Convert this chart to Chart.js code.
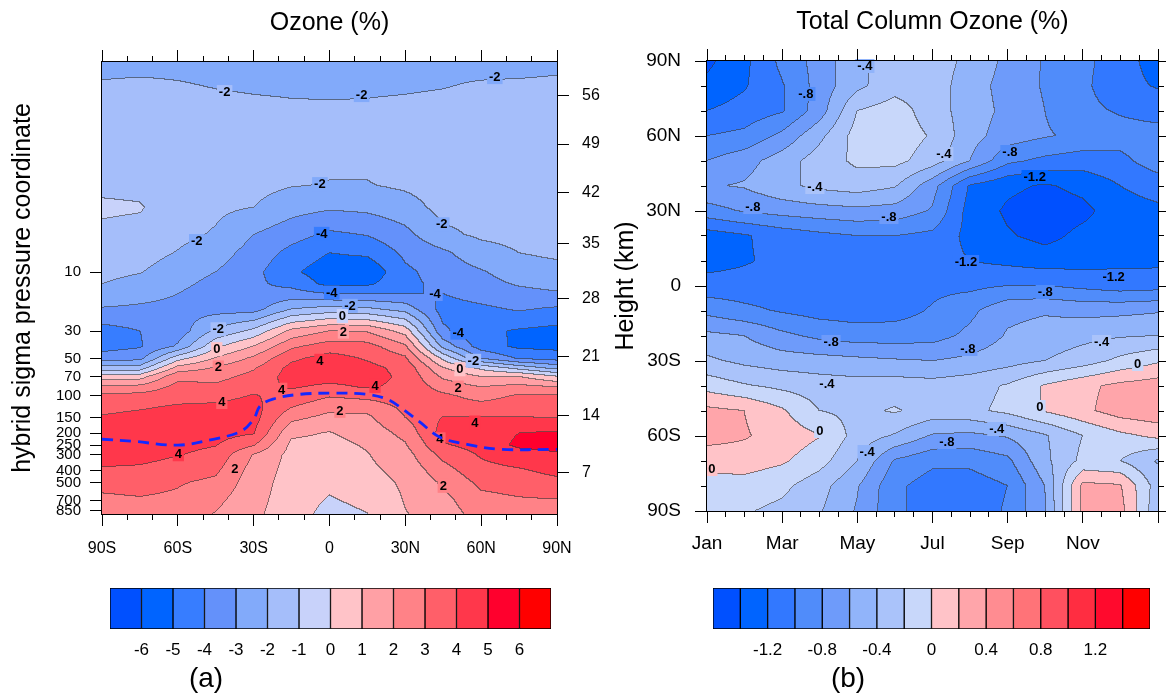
<!DOCTYPE html>
<html lang="en">
<head>
<meta charset="UTF-8">
<title>Ozone (%) and Total Column Ozone (%)</title>
<script src="https://cdn.jsdelivr.net/npm/chart.js"></script>
<style>
    body { margin: 0; background: #fff; }
    #wrap { position: relative; width: 1166px; height: 700px; overflow: hidden; background: #fff; }
    #wrap canvas { position: absolute; }
</style>
</head>
<body>
<div id="wrap">
    <canvas id="panelA" width="640" height="570" style="left:0px;top:0px"></canvas>
    <canvas id="panelB" width="566" height="570" style="left:600px;top:0px"></canvas>
    <canvas id="barA" width="640" height="140" style="left:0px;top:560px"></canvas>
    <canvas id="barB" width="566" height="140" style="left:600px;top:560px"></canvas>
</div>

<script>
    // ---------- panel (a): ozone change (%) by latitude and pressure ----------
    var ozLat = [-90, -75, -60, -45, -30, -15, 0, 15, 30, 45, 60, 75, 90];
    var ozPres = [0.2, 0.3, 0.5, 1, 2, 3, 5, 7, 10, 12.5, 15, 20, 30, 40, 50, 60, 70, 85, 100, 125, 150, 200, 250, 300, 400, 500, 700, 900];
    // one row per pressure level, columns follow ozLat
    var ozPct = [
        [-2.25, -2.25, -2.2, -2.25, -2.3, -2.3, -2.35, -2.3, -2.3, -2.25, -2.3, -2.35, -2.25],
        [-1.95, -1.9, -1.97, -2.05, -2.1, -2.12, -2.15, -2.12, -2.1, -2.05, -1.95, -1.9, -1.85],
        [-1.6, -1.6, -1.7, -1.8, -1.85, -1.9, -1.9, -1.9, -1.85, -1.8, -1.75, -1.7, -1.65],
        [-1.5, -1.5, -1.6, -1.6, -1.65, -1.7, -1.7, -1.7, -1.65, -1.6, -1.6, -1.55, -1.5],
        [-1.2, -1.25, -1.5, -1.55, -1.7, -1.95, -2.05, -2.05, -1.85, -1.6, -1.6, -1.55, -1.45],
        [-0.85, -0.92, -1.5, -1.8, -2.0, -2.6, -2.85, -2.75, -2.4, -1.7, -1.7, -1.6, -1.5],
        [-1.2, -1.3, -1.75, -2.1, -3.0, -3.6, -4.2, -3.95, -3.3, -2.2, -1.85, -1.75, -1.6],
        [-1.55, -1.6, -2.05, -2.55, -3.4, -4.3, -5.0, -4.8, -3.8, -3.2, -2.35, -2.0, -1.8],
        [-1.75, -1.95, -2.5, -3.0, -3.7, -4.8, -5.6, -5.8, -4.2, -3.6, -3.1, -2.5, -2.35],
        [-2.0, -2.3, -2.75, -3.3, -3.8, -4.3, -5.3, -5.2, -4.2, -3.8, -3.35, -2.9, -2.7],
        [-2.25, -2.6, -3.0, -3.5, -3.8, -3.6, -4.0, -4.0, -4.0, -4.0, -3.6, -3.3, -3.1],
        [-3.1, -3.2, -3.3, -3.4, -3.4, -2.0, -1.6, -1.8, -2.4, -4.4, -4.2, -3.9, -4.15],
        [-4.4, -4.0, -3.6, -1.8, -0.75, 1.25, 2.0, 1.9, 0.6, -3.8, -4.8, -5.1, -5.3],
        [-4.4, -4.1, -2.85, -0.2, 1.05, 2.8, 3.5, 3.4, 2.2, -2.3, -4.5, -5.2, -5.3],
        [-3.5, -3.3, -0.4, 1.1, 2.2, 3.8, 4.4, 3.9, 3.2, -0.2, -3.0, -4.1, -4.4],
        [-1.6, -1.5, 1.4, 2.1, 2.9, 4.3, 4.6, 4.3, 3.7, 1.1, -0.2, -1.3, -2.3],
        [0.4, 0.5, 2.75, 2.65, 3.3, 4.4, 4.4, 4.3, 3.85, 1.8, 1.0, 1.0, 0.05],
        [2.2, 2.3, 3.3, 3.2, 3.7, 4.1, 3.8, 4.1, 3.8, 2.6, 2.0, 2.3, 2.0],
        [3.2, 3.3, 3.6, 3.7, 4.05, 3.7, 3.1, 3.3, 3.5, 3.2, 2.6, 3.1, 3.1],
        [3.7, 3.9, 4.15, 4.2, 4.35, 3.0, 2.3, 2.4, 3.2, 3.6, 3.4, 3.6, 3.5],
        [4.1, 4.3, 4.5, 4.5, 4.4, 2.3, 1.7, 1.8, 3.0, 4.05, 4.05, 4.05, 3.95],
        [4.6, 4.7, 4.6, 4.4, 4.1, 1.2, 0.95, 1.4, 2.3, 4.4, 4.5, 5.0, 5.1],
        [4.6, 4.7, 4.3, 4.05, 3.1, 0.8, 0.7, 1.1, 1.9, 3.9, 4.4, 5.2, 5.3],
        [4.4, 4.4, 4.05, 3.7, 1.95, 0.7, 0.55, 0.95, 1.6, 3.3, 4.1, 4.6, 4.9],
        [3.9, 3.8, 3.5, 3.2, 1.6, 0.65, 0.4, 0.8, 1.3, 2.6, 3.7, 3.9, 4.3],
        [3.3, 3.4, 3.1, 2.8, 1.45, 0.6, 0.25, 0.6, 1.15, 2.15, 3.25, 3.45, 3.75],
        [2.8, 2.9, 2.8, 2.25, 1.3, 0.55, -0.1, 0.25, 1.05, 1.7, 2.7, 2.9, 2.95],
        [2.6, 2.7, 2.6, 1.95, 1.2, 0.5, -0.35, -0.02, 0.95, 1.5, 2.4, 2.6, 2.6]
    ];
    var ozLevels = [-6, -5, -4, -3, -2, -1, 0, 1, 2, 3, 4, 5, 6];
    var ozColors = ['#0050ff', '#0064ff', '#377dff', '#6491fa', '#82aafa', '#a5befa', '#c8d2fa',
                    '#ffc3c8', '#ffa0a5', '#ff8287', '#ff5f69', '#ff374b', '#ff002d', '#ff0000'];
    var presTicks = [10, 30, 50, 70, 100, 150, 200, 250, 300, 400, 500, 700, 850];
    var heightTicks = [56, 49, 42, 35, 28, 21, 14, 7];
    var heightTickPres = [0.376, 0.92, 2.27, 5.83, 16.2, 47.8, 143, 418];
    var latTicks = [-90, -60, -30, 0, 30, 60, 90];
    // tropopause (blue dashed)
    var tropLat = [-90, -78, -60, -46, -35, -30, -27.5, -22.4, -11.7, 1.4, 14.8, 22.7, 27.9, 35.8, 43.7, 54.4, 67.4, 90];
    var tropPres = [224, 232, 250, 224, 193, 154, 121, 106, 97, 95, 97, 106, 123, 163, 216, 246, 270, 270];
    // contour labels: [lat, pressure, text]
    var ozLabels = [
        [-41.5, 0.35, '-2'], [12.7, 0.37, '-2'], [65.4, 0.265, '-2'], [-3.8, 1.94, '-2'],
        [-52.5, 5.6, '-2'], [44.4, 4.1, '-2'], [-3.1, 4.9, '-4'], [0.9, 14.6, '-4'],
        [41.7, 15, '-4'], [50.9, 30.8, '-4'], [8.1, 18.7, '-2'], [5.1, 22.6, '0'],
        [5.5, 30.2, '2'], [-44, 28.9, '-2'], [-44.6, 41.9, '0'], [-44, 58.8, '2'],
        [-3.8, 52, '4'], [56.9, 52, '-2'], [51.6, 60.9, '0'], [50.9, 85.6, '2'],
        [-42.6, 112, '4'], [-18.9, 89, '4'], [18, 83, '4'], [4.1, 132, '2'],
        [57.5, 164, '4'], [43.7, 224, '4'], [-59.8, 296, '4'], [-37.4, 392, '2'], [45, 533, '2']
    ];

    // ---------- panel (b): total column ozone change (%) by month and latitude ----------
    var tcoMonth = [0, 1, 2, 3, 4, 5, 6, 7, 8, 9, 10, 11, 12];
    var tcoLat = [90, 80, 70, 60, 50, 40, 30, 20, 10, 0, -10, -20, -30, -40, -50, -60, -70, -80, -90];
    // one row per latitude, columns follow tcoMonth (Jan .. next Jan)
    var tcoPct = [
        [-1.45, -1.25, -0.95, -0.72, -0.45, -0.3, -0.3, -0.45, -0.65, -0.82, -0.95, -1.1, -1.3],
        [-1.35, -1.22, -1.02, -0.72, -0.45, -0.28, -0.3, -0.5, -0.68, -0.82, -0.96, -1.12, -1.22],
        [-1.2, -1.12, -1.02, -0.7, -0.2, -0.1, -0.3, -0.5, -0.65, -0.8, -0.95, -1.02, -1.08],
        [-1.0, -0.95, -0.75, -0.45, -0.12, -0.08, -0.22, -0.52, -0.7, -0.78, -0.85, -0.92, -0.92],
        [-0.8, -0.68, -0.5, -0.3, -0.16, -0.14, -0.3, -0.6, -0.95, -1.05, -1.1, -1.05, -0.9],
        [-0.62, -0.58, -0.45, -0.35, -0.3, -0.38, -0.72, -1.22, -1.36, -1.42, -1.35, -1.2, -1.1],
        [-0.88, -0.78, -0.72, -0.68, -0.65, -0.68, -0.82, -1.28, -1.43, -1.5, -1.45, -1.3, -1.25],
        [-1.3, -1.22, -1.12, -1.05, -1.0, -1.0, -1.05, -1.26, -1.38, -1.46, -1.35, -1.3, -1.28],
        [-1.28, -1.22, -1.15, -1.12, -1.15, -1.18, -1.12, -1.2, -1.25, -1.3, -1.28, -1.25, -1.25],
        [-1.12, -1.12, -1.12, -1.15, -1.15, -1.12, -1.05, -1.05, -1.0, -1.0, -1.05, -1.1, -1.08],
        [-0.86, -0.95, -1.02, -1.08, -1.1, -1.08, -0.98, -0.85, -0.65, -0.62, -0.66, -0.65, -0.62],
        [-0.55, -0.6, -0.75, -0.85, -0.9, -0.9, -0.88, -0.75, -0.58, -0.52, -0.46, -0.42, -0.4],
        [-0.36, -0.45, -0.5, -0.52, -0.55, -0.58, -0.6, -0.55, -0.48, -0.4, -0.3, -0.15, -0.03],
        [-0.08, -0.18, -0.25, -0.3, -0.32, -0.3, -0.32, -0.28, -0.18, 0.02, 0.15, 0.25, 0.3],
        [0.25, 0.2, 0.03, -0.2, -0.25, -0.18, -0.28, -0.25, -0.15, 0.02, 0.15, 0.3, 0.35],
        [0.28, 0.22, 0.12, 0.01, -0.28, -0.42, -0.62, -0.65, -0.58, -0.42, -0.2, -0.05, 0.05],
        [0.08, 0.1, 0.03, -0.12, -0.4, -0.82, -0.95, -0.95, -0.85, -0.45, -0.15, -0.2, -0.42],
        [-0.08, -0.08, -0.15, -0.32, -0.58, -0.95, -1.1, -1.1, -1.0, -0.6, 0.25, 0.22, -0.3],
        [-0.15, -0.18, -0.25, -0.38, -0.62, -0.95, -1.1, -1.1, -0.98, -0.62, 0.25, 0.28, -0.35]
    ];
    var tcoLevels = [-1.4, -1.2, -1.0, -0.8, -0.6, -0.4, -0.2, 0, 0.2, 0.4, 0.6, 0.8, 1.0, 1.2, 1.4];
    var tcoColors = ['#0050ff', '#0064ff', '#3278ff', '#508cfa', '#6e9bfa', '#91b4fa', '#aac3fa', '#c8d7fa',
                     '#ffc3c8', '#ffa5aa', '#ff8c91', '#ff7378', '#ff505f', '#ff2d41', '#ff0a2d', '#ff0000'];
    var monthTickPos = [0, 2, 4, 6, 8, 10];
    var monthTickText = ['Jan', 'Mar', 'May', 'Jul', 'Sep', 'Nov'];
    // contour labels: [month, lat, text]
    var tcoLabels = [
        [4.2, 88, '-.4'], [2.63, 76.8, '-.8'], [6.3, 52.8, '-.4'], [8.06, 53.6, '-.8'],
        [2.87, 39.6, '-.4'], [8.72, 43.6, '-1.2'], [1.22, 31.6, '-.8'], [4.84, 27.6, '-.8'],
        [6.89, 9.6, '-1.2'], [10.82, 3.6, '-1.2'], [9.0, -2.4, '-.8'], [3.3, -22.4, '-.8'],
        [6.94, -25.2, '-.8'], [10.5, -22.4, '-.4'], [11.46, -31.2, '0'], [3.19, -39.2, '-.4'],
        [8.86, -48.4, '0'], [7.71, -57.2, '-.4'], [3.0, -58, '0'], [6.38, -62.4, '-.8'],
        [4.26, -66.4, '-.4'], [0.13, -73.2, '0']
    ];

    // colour bar tick labels
    var ozBarTickPos = [1, 2, 3, 4, 5, 6, 7, 8, 9, 10, 11, 12, 13];
    var ozBarTickText = ['-6', '-5', '-4', '-3', '-2', '-1', '0', '1', '2', '3', '4', '5', '6'];
    var tcoBarTickPos = [2, 4, 6, 8, 10, 12, 14];
    var tcoBarTickText = ['-1.2', '-0.8', '-0.4', '0', '0.4', '0.8', '1.2'];

    var FONT = '"Liberation Sans", Arial, Helvetica, sans-serif';
    Chart.defaults.font.family = FONT;
    Chart.defaults.color = '#000';

    function rgbOf(hex) {
        return [1, 3, 5].map(function (k) { return parseInt(hex.slice(k, k + 2), 16); });
    }

    // which grid interval holds t, and the fraction inside it
    function cellOf(axis, t) {
        var n = axis.length, up = axis[n - 1] > axis[0], k = 0;
        while (k < n - 2 && (up ? t > axis[k + 1] : t < axis[k + 1])) k++;
        var f = (t - axis[k]) / (axis[k + 1] - axis[k]);
        return [k, Math.max(0, Math.min(1, f))];
    }

    function gridSampler(xs, ys, z, logY) {
        var yy = logY ? ys.map(Math.log10) : ys;
        return function (u, v) {
            var cx = cellOf(xs, u), cy = cellOf(yy, logY ? Math.log10(v) : v);
            var i = cx[0], fx = cx[1], j = cy[0], fy = cy[1];
            var top = z[j][i] * (1 - fx) + z[j][i + 1] * fx;
            var bot = z[j + 1][i] * (1 - fx) + z[j + 1][i + 1] * fx;
            return top * (1 - fy) + bot * fy;
        };
    }

    function levelOf(val, levels) {
        var k = 0;
        while (k < levels.length && val >= levels[k]) k++;
        return k;
    }

    function latText(v) {
        return v === 0 ? '0' : Math.abs(v) + (v < 0 ? 'S' : 'N');
    }

    function px(p) { return Math.round(p - 0.5) + 0.5; }

    // filled contours, contour lines, labels, frame, extra ticks and titles
    function fieldPlugin(o) {
        var rgb = o.colors.map(rgbOf);
        return {
            id: 'field',
            beforeDatasetsDraw: function (chart) {
                var ctx = chart.ctx, a = chart.chartArea;
                var sx = chart.scales.x, sy = chart.scales.y;
                var x0 = Math.round(a.left), y0 = Math.round(a.top);
                var w = Math.round(a.right) - x0, h = Math.round(a.bottom) - y0;
                var lev = new Int16Array(w * h);
                for (var j = 0; j < h; j++) {
                    var v = sy.getValueForPixel(y0 + j + 0.5);
                    for (var i = 0; i < w; i++) {
                        lev[j * w + i] = levelOf(o.sample(sx.getValueForPixel(x0 + i + 0.5), v), o.levels);
                    }
                }
                var img = ctx.createImageData(w, h);
                for (var p = 0; p < w * h; p++) {
                    var k = lev[p], ci = p % w, cj = (p - ci) / w;
                    var edge = (ci < w - 1 && lev[p + 1] !== k) || (cj < h - 1 && lev[p + w] !== k);
                    var c = rgb[k];
                    for (var q = 0; q < 3; q++) img.data[4 * p + q] = edge ? c[q] * 0.38 + 38 : c[q];
                    img.data[4 * p + 3] = 255;
                }
                ctx.putImageData(img, x0, y0);

                ctx.save();
                ctx.font = 'bold 13px ' + FONT;
                ctx.textAlign = 'center';
                ctx.textBaseline = 'middle';
                o.labels.forEach(function (L) {
                    var lx = sx.getPixelForValue(L[0]), ly = sy.getPixelForValue(L[1]);
                    var tw = ctx.measureText(L[2]).width;
                    ctx.fillStyle = 'rgb(' + rgb[levelOf(o.sample(L[0], L[1]), o.levels)].join(',') + ')';
                    ctx.fillRect(lx - tw / 2 - 2, ly - 7, tw + 4, 14);
                    ctx.fillStyle = '#000';
                    ctx.fillText(L[2], lx, ly + 0.5);
                });
                ctx.restore();
            },
            afterDraw: function (chart) {
                var ctx = chart.ctx, a = chart.chartArea;
                var x0 = Math.round(a.left), y0 = Math.round(a.top);
                var x1 = Math.round(a.right), y1 = Math.round(a.bottom);
                ctx.save();
                ctx.strokeStyle = '#000';
                ctx.lineWidth = 1;
                ctx.strokeRect(x0 - 0.5, y0 - 0.5, x1 - x0 + 1, y1 - y0 + 1);
                ctx.beginPath();
                o.ticks(chart, function (xa, ya, xb, yb) { ctx.moveTo(xa, ya); ctx.lineTo(xb, yb); });
                ctx.stroke();

                ctx.fillStyle = '#000';
                ctx.textAlign = 'center';
                ctx.textBaseline = 'alphabetic';
                ctx.font = '25px ' + FONT;
                ctx.fillText(o.title, (a.left + a.right) / 2, o.titleY);
                ctx.translate(o.yTitleX, (a.top + a.bottom) / 2);
                ctx.rotate(-Math.PI / 2);
                ctx.fillText(o.yTitle, 0, 0);
                ctx.restore();
            }
        };
    }

    function axisGrid() {
        return { drawOnChartArea: false, drawTicks: true, tickLength: 12, color: '#000', lineWidth: 1 };
    }

    // ---------- chart (a) ----------
    new Chart(document.getElementById('panelA'), {
        type: 'line',
        data: {
            datasets: [{
                data: tropLat.map(function (x, i) { return { x: x, y: tropPres[i] }; }),
                borderColor: '#1428ff',
                borderWidth: 2.8,
                borderDash: [11, 7],
                pointRadius: 0,
                tension: 0.35,
                fill: false
            }]
        },
        options: {
            responsive: false,
            animation: false,
            devicePixelRatio: 1,
            layout: { padding: { left: 42, right: 23, top: 62, bottom: 6 } },
            plugins: { legend: { display: false }, tooltip: { enabled: false } },
            scales: {
                x: {
                    type: 'linear', min: -90, max: 90,
                    afterBuildTicks: function (s) { s.ticks = latTicks.map(function (v) { return { value: v }; }); },
                    ticks: { callback: latText, autoSkip: false, maxRotation: 0, padding: 13, font: { size: 16 } },
                    grid: axisGrid(),
                    border: { display: true, color: '#000' },
                    afterFit: function (s) { s.height = 50; }
                },
                y: {
                    type: 'logarithmic', position: 'left', reverse: true, min: 0.2, max: 900,
                    afterBuildTicks: function (s) { s.ticks = presTicks.map(function (v) { return { value: v }; }); },
                    ticks: { callback: function (v) { return String(v); }, autoSkip: false, padding: 9, font: { size: 15 } },
                    grid: axisGrid(),
                    border: { display: true, color: '#000' },
                    afterFit: function (s) { s.width = 60; }
                },
                y2: {
                    type: 'logarithmic', position: 'right', reverse: true, min: 0.2, max: 900,
                    afterBuildTicks: function (s) { s.ticks = heightTickPres.map(function (v) { return { value: v }; }); },
                    ticks: { callback: function (v, i) { return String(heightTicks[i]); }, autoSkip: false, padding: 13, font: { size: 16 } },
                    grid: axisGrid(),
                    border: { display: true, color: '#000' },
                    afterFit: function (s) { s.width = 60; }
                }
            }
        },
        plugins: [fieldPlugin({
            sample: gridSampler(ozLat, ozPres, ozPct, true),
            levels: ozLevels,
            colors: ozColors,
            labels: ozLabels,
            title: 'Ozone (%)',
            titleY: 30,
            yTitle: 'hybrid sigma pressure coordinate',
            yTitleX: 30,
            ticks: function (chart, seg) {
                var a = chart.chartArea, sx = chart.scales.x;
                for (var v = -90; v <= 90; v += 10) {
                    var p = px(sx.getPixelForValue(v));
                    var major = v % 30 === 0;
                    seg(p, a.top, p, a.top - (major ? 12 : 6));
                    if (!major) seg(p, a.bottom, p, a.bottom + 6);
                }
            }
        })]
    });

    // ---------- chart (b) ----------
    new Chart(document.getElementById('panelB'), {
        type: 'scatter',
        data: { datasets: [] },
        options: {
            responsive: false,
            animation: false,
            devicePixelRatio: 1,
            layout: { padding: { left: 37, right: 8, top: 61, bottom: 9 } },
            plugins: { legend: { display: false }, tooltip: { enabled: false } },
            scales: {
                x: {
                    type: 'linear', min: 0, max: 12,
                    afterBuildTicks: function (s) { s.ticks = monthTickPos.map(function (v) { return { value: v }; }); },
                    ticks: { callback: function (v, i) { return monthTickText[i]; }, autoSkip: false, maxRotation: 0, padding: 9, font: { size: 19 } },
                    grid: axisGrid(),
                    border: { display: true, color: '#000' },
                    afterFit: function (s) { s.height = 50; }
                },
                y: {
                    type: 'linear', min: -90, max: 90,
                    afterBuildTicks: function (s) { s.ticks = latTicks.map(function (v) { return { value: v }; }); },
                    ticks: { callback: latText, autoSkip: false, padding: 14, font: { size: 19 } },
                    grid: axisGrid(),
                    border: { display: true, color: '#000' },
                    afterFit: function (s) { s.width = 70; }
                }
            }
        },
        plugins: [fieldPlugin({
            sample: gridSampler(tcoMonth, tcoLat, tcoPct, false),
            levels: tcoLevels,
            colors: tcoColors,
            labels: tcoLabels,
            title: 'Total Column Ozone (%)',
            titleY: 29,
            yTitle: 'Height (km)',
            yTitleX: 33,
            ticks: function (chart, seg) {
                var a = chart.chartArea, sx = chart.scales.x, sy = chart.scales.y;
                for (var m = 0; m <= 12; m += 0.5) {
                    var p = px(sx.getPixelForValue(m));
                    var major = m % 2 === 0;
                    seg(p, a.top, p, a.top - (major ? 12 : 6));
                    if (!major || m === 12) seg(p, a.bottom, p, a.bottom + (major ? 12 : 6));
                }
                for (var v = -90; v <= 90; v += 10) {
                    var q = px(sy.getPixelForValue(v));
                    var big = v % 30 === 0;
                    seg(a.right, q, a.right + (big ? 12 : 6), q);
                    if (!big) seg(a.left, q, a.left - 6, q);
                }
            }
        })]
    });

    // ---------- colour bars ----------
    function colorBar(id, colors, tickPos, tickText, pad, tag, tagX) {
        return new Chart(document.getElementById(id), {
            type: 'bar',
            data: {
                labels: [''],
                datasets: colors.map(function (c, i) {
                    return {
                        data: [[i, i + 1]],
                        backgroundColor: c,
                        borderColor: '#000',
                        borderWidth: 1,
                        borderSkipped: false,
                        grouped: false,
                        barPercentage: 1,
                        categoryPercentage: 1
                    };
                })
            },
            options: {
                indexAxis: 'y',
                responsive: false,
                animation: false,
                devicePixelRatio: 1,
                layout: { padding: pad },
                plugins: { legend: { display: false }, tooltip: { enabled: false } },
                scales: {
                    x: {
                        type: 'linear', min: 0, max: colors.length,
                        afterBuildTicks: function (s) { s.ticks = tickPos.map(function (v) { return { value: v }; }); },
                        ticks: { callback: function (v, i) { return tickText[i]; }, autoSkip: false, maxRotation: 0, padding: 11, font: { size: 17 } },
                        grid: { display: false, drawTicks: false },
                        border: { display: false },
                        afterFit: function (s) { s.height = 30; }
                    },
                    y: { display: false }
                }
            },
            plugins: [{
                id: 'tag',
                afterDraw: function (chart) {
                    var ctx = chart.ctx;
                    ctx.save();
                    ctx.fillStyle = '#000';
                    ctx.font = '28px ' + FONT;
                    ctx.textAlign = 'center';
                    ctx.textBaseline = 'alphabetic';
                    ctx.fillText(tag, tagX, 127);
                    ctx.restore();
                }
            }]
        });
    }

    colorBar('barA', ozColors, ozBarTickPos, ozBarTickText, { left: 110, right: 89, top: 28, bottom: 41 }, '(a)', 206);
    colorBar('barB', tcoColors, tcoBarTickPos, tcoBarTickText, { left: 113, right: 16, top: 28, bottom: 41 }, '(b)', 248);
</script>
</body>
</html>
